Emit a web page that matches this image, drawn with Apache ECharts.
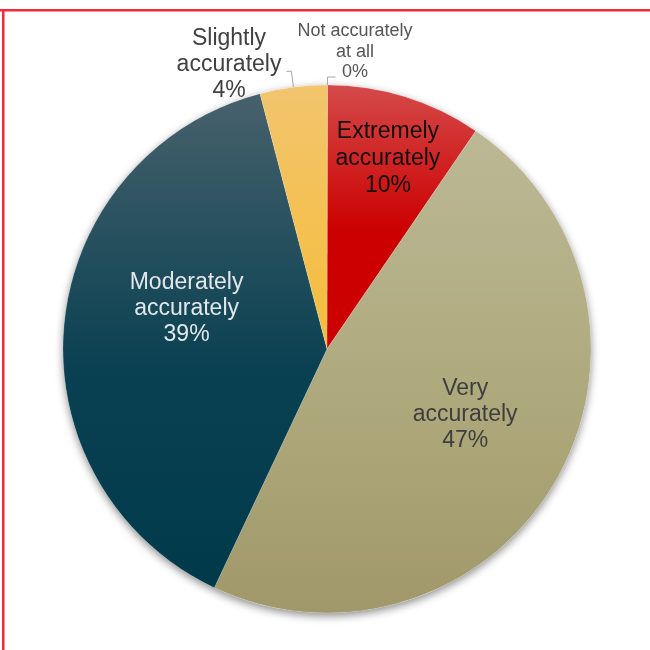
<!DOCTYPE html>
<html>
<head>
<meta charset="utf-8">
<script src="https://cdn.jsdelivr.net/npm/echarts@6/dist/echarts.min.js"></script>
<style>
html,body{margin:0;padding:0;background:#fff;}
#chart{width:650px;height:650px;}
</style>
</head>
<body>
<div id="chart"></div>
<script>
// ---- data ----
const categories = ['Not accurately\nat all', 'Extremely\naccurately', 'Very\naccurately', 'Moderately\naccurately', 'Slightly\naccurately'];
const shares = [0, 9.5, 47.49, 38.9, 4.11];

// ---- styles ----
const gradients = [
  ['#9a9a9a', '#9a9a9a', '#9a9a9a'],
  ['#d54a4a', '#cc0000', '#cc0000'],
  ['#bcb895', '#aea97c', '#a0986a'],
  ['#47616c', '#0a4152', '#003a4a'],
  ['#f2c56e', '#f4c050', '#f4bd3c']
];
const textColors = ['#555555', '#111111', '#3e3e3e', '#e2e7ea', '#404040'];
const outsideIdx = [0, 4];
const labelNudge = [[-43, -25], [21, -61], [21, -1], [-6, -28], [0, -7]];
const fontFam = '"Liberation Sans", Arial, sans-serif';

function grad(c) {
  return {type: 'linear', x: 0, y: 0, x2: 0, y2: 1,
    colorStops: [{offset: 0, color: c[0]}, {offset: 0.55, color: c[1]}, {offset: 1, color: c[2]}]};
}

const pieData = categories.map((name, i) => {
  const outside = outsideIdx.indexOf(i) >= 0;
  const fs = i === 0 ? 18 : 23;
  const lh = i === 0 ? 20.5 : (i === 1 ? 27 : 26);
  return {
    name: name,
    value: shares[i],
    itemStyle: {color: grad(gradients[i])},
    label: {
      position: outside ? 'outside' : 'inside',
      color: textColors[i],
      fontSize: fs,
      lineHeight: lh,
      fontFamily: fontFam,
      rich: {c: {align: 'center', color: textColors[i], fontSize: fs, lineHeight: lh, fontFamily: fontFam}}
    },
    labelLine: i === 0 ? {length: 8, length2: 8} : {length: 16, length2: 5}
  };
});

const chart = echarts.init(document.getElementById('chart'), null, {renderer: 'canvas'});
chart.setOption({
  animation: false,
  backgroundColor: '#ffffff',
  graphic: [
    {type: 'rect', shape: {x: 0, y: 9, width: 650, height: 2.5}, style: {fill: '#ee2b3b'}, z: 10},
    {type: 'rect', shape: {x: 2, y: 9, width: 2.5, height: 641}, style: {fill: '#ee2b3b'}, z: 10}
  ],
  series: [
    {
      type: 'pie', silent: true, center: [327, 349], radius: 264,
      label: {show: false}, labelLine: {show: false},
      itemStyle: {color: '#ffffff', shadowBlur: 8, shadowColor: 'rgba(0,0,0,0.45)', shadowOffsetY: 3},
      data: [{value: 1}], z: 1
    },
    {
      type: 'pie',
      center: [327, 349],
      radius: 264,
      startAngle: 89.9,
      clockwise: true,
      avoidLabelOverlap: false,
      z: 2,
      itemStyle: {borderColor: 'rgba(255,255,255,0.3)', borderWidth: 0.5},
      label: {
        show: true,
        distanceToLabelLine: 5,
        formatter: function (p) {
          const lines = (p.name + '\n' + Math.round(p.value) + '%').split('\n');
          return lines.map(l => '{c|' + l + '}').join('\n');
        }
      },
      labelLine: {show: true, lineStyle: {color: '#a6a6a6', width: 1}, smooth: false},
      labelLayout: function (p) {
        const n = labelNudge[p.dataIndex];
        return {dx: n[0], dy: n[1]};
      },
      data: pieData
    }
  ]
});
</script>
</body>
</html>
